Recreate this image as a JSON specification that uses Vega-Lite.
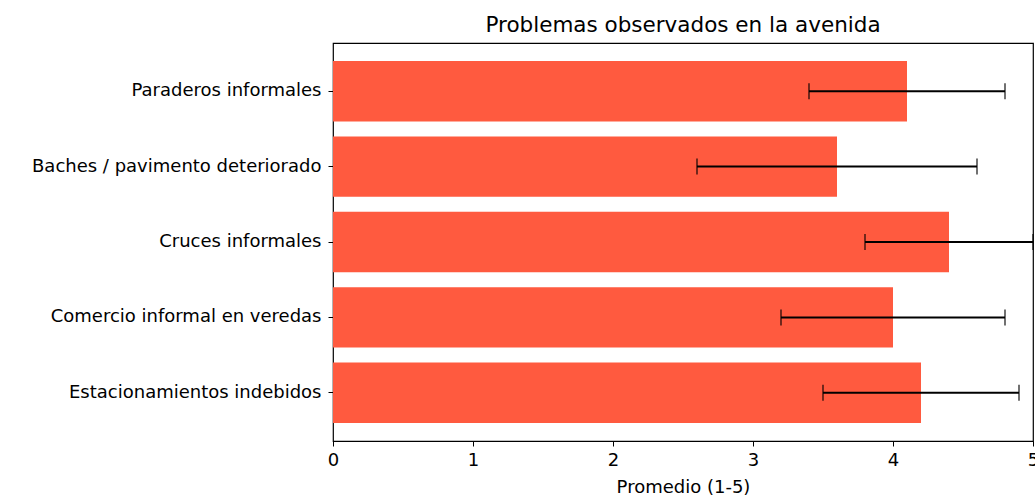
{
  "$schema": "https://vega.github.io/schema/vega-lite/v6.json",
  "width": 700,
  "height": 398,
  "autosize": {"type": "none"},
  "padding": {"left": 333, "top": 43, "right": 2, "bottom": 57},
  "background": "white",
  "title": {"text": "Problemas observados en la avenida", "font": "DejaVu Sans", "fontSize": 21.5, "fontWeight": "normal", "color": "#000000", "offset": 7},
  "config": {
    "view": {"stroke": "#000000", "strokeWidth": 1.2},
    "axis": {"labelFont": "DejaVu Sans", "titleFont": "DejaVu Sans", "labelFontSize": 18, "titleFontSize": 18, "titleFontWeight": "normal", "labelColor": "#000000", "titleColor": "#000000", "tickColor": "#000000", "domainColor": "#000000", "tickSize": 5, "grid": false, "labelLimit": 400}
  },
  "data": {"values": [
    {"problema": "Paraderos informales", "promedio": 4.1, "lo": 3.4, "hi": 4.8},
    {"problema": "Baches / pavimento deteriorado", "promedio": 3.6, "lo": 2.6, "hi": 4.6},
    {"problema": "Cruces informales", "promedio": 4.4, "lo": 3.8, "hi": 5.0},
    {"problema": "Comercio informal en veredas", "promedio": 4.0, "lo": 3.2, "hi": 4.8},
    {"problema": "Estacionamientos indebidos", "promedio": 4.2, "lo": 3.5, "hi": 4.9}
  ]},
  "encoding": {
    "y": {"field": "problema", "type": "nominal", "sort": null, "title": null,
      "scale": {"paddingInner": 0.2, "paddingOuter": 0.24},
      "axis": {"labelPadding": 7, "domain": false}}
  },
  "layer": [
    {
      "mark": {"type": "bar", "color": "#ff5a3f"},
      "encoding": {
        "x": {"field": "promedio", "type": "quantitative", "title": "Promedio (1-5)",
          "scale": {"domain": [0, 5], "nice": false},
          "axis": {"values": [0, 1, 2, 3, 4, 5], "format": "d", "labelFlush": false, "labelPadding": 5, "titlePadding": 9, "domain": false}}
      }
    },
    {
      "mark": {"type": "rule", "color": "#000000", "strokeWidth": 2, "clip": false},
      "encoding": {
        "x": {"field": "lo", "type": "quantitative"},
        "x2": {"field": "hi"}
      }
    },
    {
      "mark": {"type": "tick", "color": "#000000", "size": 16, "thickness": 1.6, "clip": false},
      "encoding": {"x": {"field": "lo", "type": "quantitative"}}
    },
    {
      "mark": {"type": "tick", "color": "#000000", "size": 16, "thickness": 1.6, "clip": false},
      "encoding": {"x": {"field": "hi", "type": "quantitative"}}
    }
  ]
}
